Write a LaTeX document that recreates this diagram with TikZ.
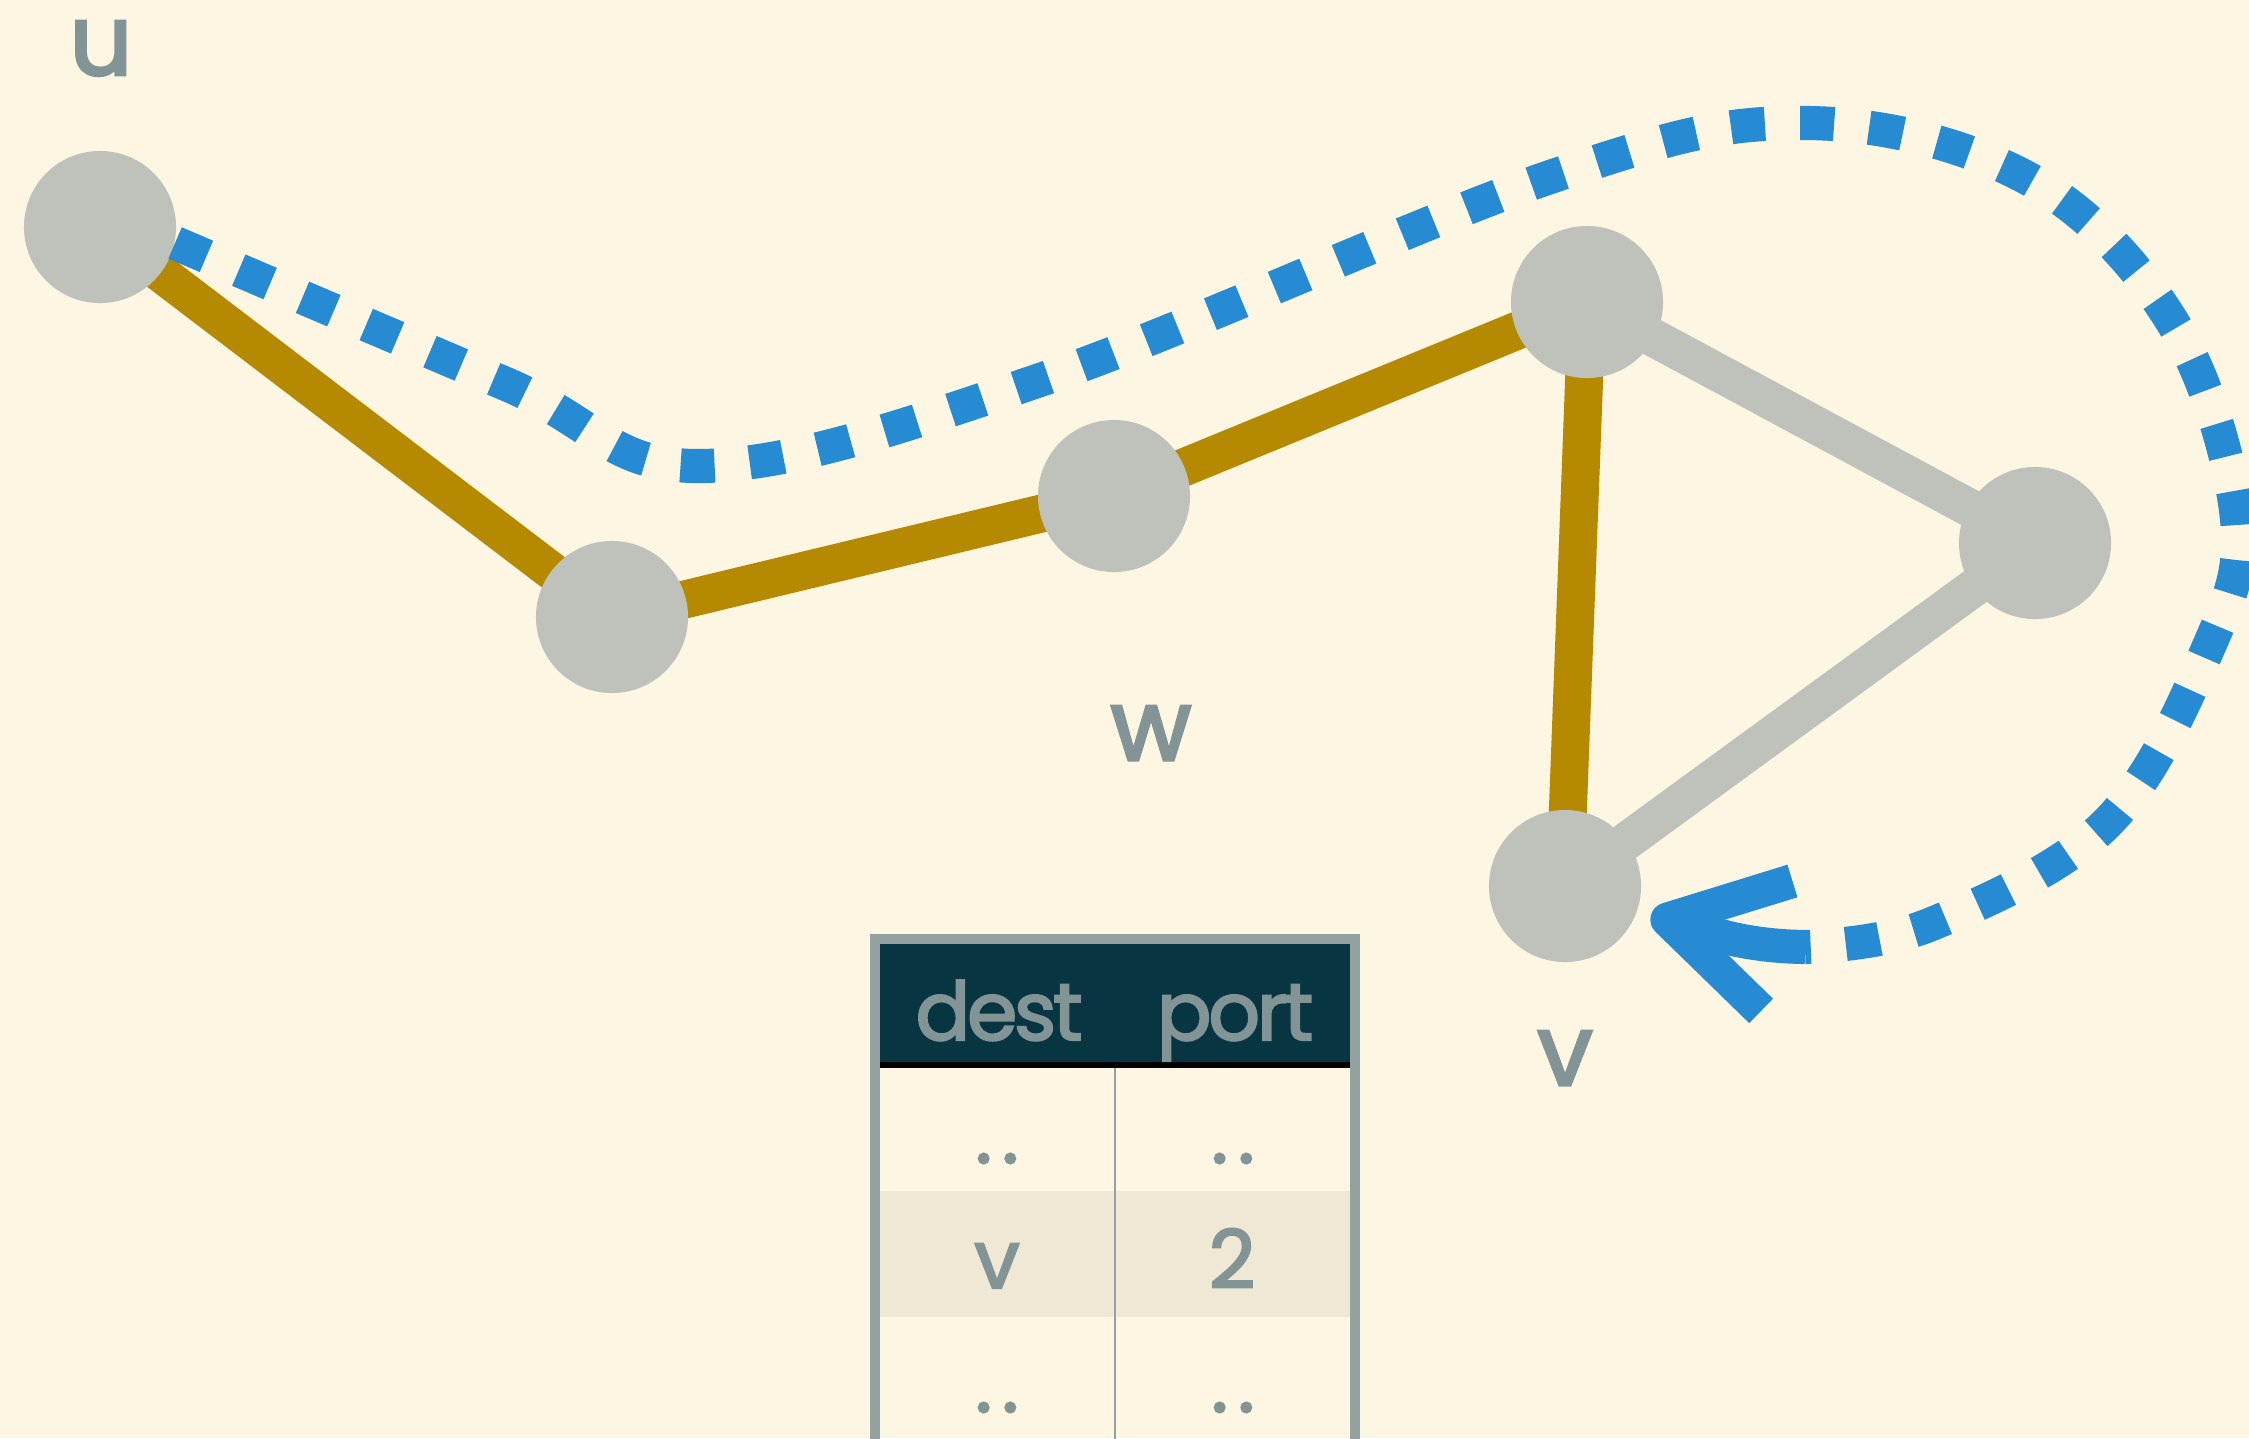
\documentclass[tikz,border=0pt]{standalone}
\usepackage{fontspec}
\setmainfont{Poppins}
\newfontfamily\lblfont{Poppins}[FakeBold=3]
\newfontfamily\cellfont{Poppins}[FakeBold=2.5, LetterSpace=-4]
\usetikzlibrary{arrows.meta}
\definecolor{bgc}{HTML}{FDF6E3}
\definecolor{nodegray}{HTML}{BEC2BB}
\definecolor{gold}{HTML}{B58900}
\definecolor{sblue}{HTML}{268BD2}
\definecolor{txt}{HTML}{839496}
\definecolor{hdr}{HTML}{073642}
\definecolor{tborder}{HTML}{93A1A1}
\definecolor{rowshade}{HTML}{EEE8D5}
\pgfdeclarelayer{back}
\pgfsetlayers{back,main}
\begin{document}
\begin{tikzpicture}[x=0.01cm,y=-0.01cm,
  vertex/.style={circle, fill=nodegray, minimum size=1.52cm, inner sep=0pt},
  lbl/.style={text=txt, font=\lblfont\fontsize{28}{30}\selectfont, anchor=base, inner sep=0pt},
  cell/.style={text=txt, font=\cellfont\fontsize{23}{26}\selectfont, anchor=base, inner sep=0pt},
  goldedge/.style={draw=gold, line width=10.8pt},
  grayedge/.style={draw=nodegray, line width=10.8pt},
  route/.style={draw=sblue, line width=9.7pt, dash pattern=on 9.7pt off 10pt},
  routehead/.style={draw=sblue, line width=9.7pt, -{Straight Barb[length=32pt,width=38pt,line join=round,line cap=butt]}}
  ]
\path[use as bounding box] (0,0) rectangle (2249,1438);

% vertices
\node[vertex] (u) at (100,227) {};
\node[vertex] (a) at (612,617) {};
\node[vertex] (w) at (1114,496) {};
\node[vertex] (b) at (1587,302) {};
\node[vertex] (c) at (2035,543) {};
\node[vertex] (v) at (1565,886) {};

\begin{pgfonlayer}{back}
  \fill[bgc] (0,0) rectangle (2249,1438);
  \draw[grayedge] (b.center) -- (c.center);
  \draw[grayedge] (c.center) -- (v.center);
  \draw[goldedge] (u.center) -- (a.center);
  \draw[goldedge] (a.center) -- (w.center);
  \draw[goldedge] (w.center) -- (b.center);
  \draw[goldedge] (b.center) -- (v.center);
\end{pgfonlayer}

% labels
\node[lbl] (lu) at (101,75) {u};
\node[lbl] (lw) at (1151,760) {w};
\node[lbl] (lv) at (1565,1085) {v};

% route
\coordinate (rs) at (1805,947);
\draw[route] plot[smooth, tension=0.6] coordinates {(u.-12) (506,384) (700,466) (1040,380) (1556,175) (1807,123) (2029,179) (2173,323) (2237,519) (2206,653) (2105,825) (1929,925) (rs)};
\draw[routehead, shorten >=4pt] (rs) .. controls (1730,946) and (1690,925) .. (v.-20);

% table
\begin{scope}
  \clip (0,0) rectangle (2249,1438);
  \fill[hdr] (880,944) rectangle (1350,1065);
  \fill[rowshade] (880,1191) rectangle (1350,1317);
  \draw[tborder, line width=0.6pt] (1115,1065) -- (1115,1500);
  \draw[black, line width=1.55pt] (880,1065) -- (1350,1065);
  \draw[tborder, line width=3.1pt] (875,1500) -- (875,939) -- (1355,939) -- (1355,1500);
  \node[cell] (h1) at (999,1040) {dest};
  \node[cell] (h2) at (1235,1040) {port};
  \node[cell] (r1a) at (997,1163) {.\kern0.12em.};
  \node[cell] (r1b) at (1233,1163) {.\kern0.12em.};
  \node[cell] (r2a) at (997,1288) {v};
  \node[cell] (r2b) at (1232,1288) {2};
  \node[cell] (r3a) at (997,1412) {.\kern0.12em.};
  \node[cell] (r3b) at (1233,1412) {.\kern0.12em.};
\end{scope}
\end{tikzpicture}
\end{document}
